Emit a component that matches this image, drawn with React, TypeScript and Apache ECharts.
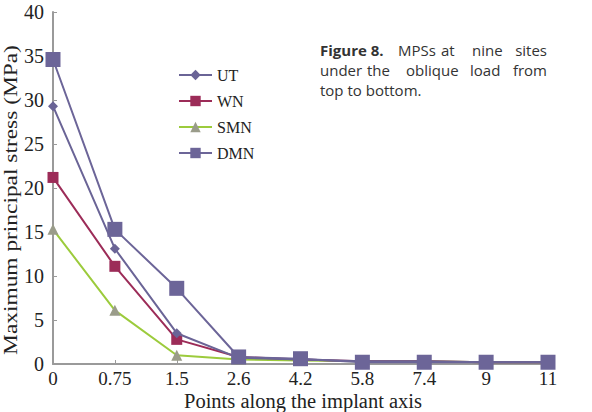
import React, { useEffect, useRef } from "react";
import * as echarts from "echarts";

const categories = ["0", "0.75", "1.5", "2.6", "4.2", "5.8", "7.4", "9", "11"];
const utValues = [29.3, 13.1, 3.5, 0.7, 0.5, 0.3, 0.3, 0.2, 0.2];
const wnValues = [21.2, 11.1, 2.8, 0.8, 0.5, 0.3, 0.3, 0.2, 0.2];
const smnValues = [15.3, 6.1, 1.0, 0.5, 0.4, 0.3, 0.3, 0.2, 0.2];
const dmnValues = [34.6, 15.3, 8.6, 0.8, 0.6, 0.2, 0.2, 0.2, 0.2];

const serif = "'Liberation Serif', 'Times New Roman', serif";
const sans = "'Open Sans', 'DejaVu Sans', sans-serif";

export default function App() {
  const ref = useRef<HTMLDivElement>(null);
  useEffect(() => {
    if (!ref.current) return;
    const chart = echarts.init(ref.current, null, { renderer: "svg" });
    const words = (items: [string, number, number, string, boolean?][]) =>
      items.map(([t, x, y, align, b]) => ({
        type: "text",
        x,
        y,
        style: {
          text: t,
          font: `${b ? "bold " : ""}15px ${sans}`,
          fill: "#333",
          align,
          verticalAlign: "middle",
        },
      }));
    chart.setOption({
      animation: false,
      backgroundColor: "#fff",
      grid: { left: 53, right: 44, top: 12, bottom: 48, outerBoundsMode: "none", containLabel: false },
      legend: {
        orient: "vertical",
        left: 173,
        top: 62,
        itemWidth: 33,
        itemHeight: 13,
        itemGap: 10,
        textStyle: { fontFamily: serif, fontSize: 16, color: "#222", lineHeight: 16 },
        data: ["UT", "WN", "SMN", "DMN"],
      },
      xAxis: {
        type: "category",
        data: categories,
        boundaryGap: false,
        axisLine: { lineStyle: { color: "#9a9a9a", width: 2 } },
        axisTick: { inside: true, length: 4, lineStyle: { color: "#9a9a9a" } },
        axisLabel: { fontFamily: serif, fontSize: 19, color: "#222", margin: 6, lineHeight: 16 },
        splitLine: { show: false },
      },
      yAxis: {
        type: "value",
        min: 0,
        max: 40,
        interval: 5,
        axisLine: { show: true, lineStyle: { color: "#9a9a9a", width: 2 } },
        axisTick: { show: true, inside: true, length: 4, lineStyle: { color: "#9a9a9a" } },
        axisLabel: { fontFamily: serif, fontSize: 20, color: "#222", margin: 9 },
        splitLine: { show: false },
      },
      series: [
        {
          name: "UT",
          type: "line",
          data: utValues,
          symbol: "diamond",
          symbolSize: 10,
          itemStyle: { color: "#6a6496" },
          lineStyle: { color: "#6a6496", width: 2 },
          z: 3,
        },
        {
          name: "WN",
          type: "line",
          data: wnValues,
          symbol: "rect",
          symbolSize: 11,
          itemStyle: { color: "#9c2c58" },
          lineStyle: { color: "#9c2c58", width: 2 },
          z: 2,
        },
        {
          name: "SMN",
          type: "line",
          data: smnValues,
          symbol: "triangle",
          symbolSize: 11,
          itemStyle: { color: "#9a9c8a" },
          lineStyle: { color: "#9ccb3c", width: 2 },
          z: 1,
        },
        {
          name: "DMN",
          type: "line",
          data: dmnValues,
          symbol: "rect",
          symbolSize: 15,
          itemStyle: { color: "#6c6598" },
          lineStyle: { color: "#6c6598", width: 2 },
          z: 4,
        },
      ],
      graphic: [
        {
          type: "text",
          x: 11,
          y: 200,
          rotation: Math.PI / 2,
          scaleX: 1.3,
          style: {
            text: "Maximum principal stress (MPa)",
            font: `18px ${serif}`,
            fill: "#222",
            align: "center",
            verticalAlign: "middle",
          },
        },
        {
          type: "text",
          x: 303,
          y: 401,
          style: {
            text: "Points along the implant axis",
            font: `20.5px ${serif}`,
            fill: "#222",
            align: "center",
            verticalAlign: "middle",
          },
        },
        ...words([
          ["Figure 8.", 320, 50, "left", true],
          ["MPSs", 398, 50, "left"],
          ["at", 441, 50, "left"],
          ["nine", 472, 50, "left"],
          ["sites", 547, 50, "right"],
          ["under", 320, 70, "left"],
          ["the", 367, 70, "left"],
          ["oblique", 406, 70, "left"],
          ["load", 470, 70, "left"],
          ["from", 547, 70, "right"],
          ["top to bottom.", 320, 90, "left"],
        ]),
      ],
    });
    return () => chart.dispose();
  }, []);
  return <div ref={ref} style={{ width: 592, height: 412, position: "absolute", left: 0, top: 0 }} />;
}
